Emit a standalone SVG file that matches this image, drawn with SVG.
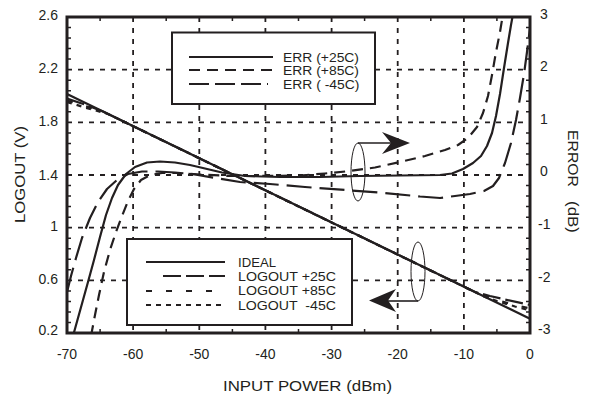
<svg xmlns="http://www.w3.org/2000/svg" width="592" height="396" viewBox="0 0 592 396">
<style>
text{font-family:"Liberation Sans",Arial,sans-serif;fill:#231f20}
.t{font-size:14px}
.lg{font-size:12.5px}
.tl{text-anchor:end}
.tc{text-anchor:middle}
.grid{stroke:#231f20;stroke-width:1.8;stroke-dasharray:5 6;fill:none}
.tick{stroke:#231f20;stroke-width:1.5;fill:none}
.box{fill:#fff;stroke:#231f20;stroke-width:2}
.c{fill:none;stroke:#231f20;stroke-width:2.2;stroke-linejoin:round}
.s{stroke-width:2.2}
.d85{stroke-dasharray:11 7}
.d45{stroke-dasharray:25 8}
.l25{stroke-dasharray:18 5}
.l85{stroke-dasharray:6 14}
.l45{stroke-dasharray:5 5}
.ov{fill:none;stroke:#231f20;stroke-width:1}
.ar{fill:none;stroke:#231f20;stroke-width:1.6}
</style>
<defs>
<clipPath id="plot"><rect x="67" y="17" width="463" height="316"/></clipPath>
</defs>
<rect width="592" height="396" fill="#fff"/>
<g id="grid">
<path class="grid" d="M133.1,17V333M199.3,17V333M265.4,17V333M331.6,17V333M397.7,17V333M463.9,17V333M67,69.7H530M67,122.3H530M67,175H530M67,227.7H530M67,280.3H530"/>
</g>
<g id="ticks">
<path class="tick" d="M67,27.5h4M67,38h4M67,48.6h4M67,59.1h4M67,80.2h4M67,90.8h4M67,101.3h4M67,111.8h4M67,132.9h4M67,143.4h4M67,154h4M67,164.5h4M67,185.5h4M67,196.1h4M67,206.6h4M67,217.2h4M67,238.2h4M67,248.8h4M67,259.3h4M67,269.8h4M67,290.9h4M67,301.4h4M67,312h4M67,322.5h4"/>
<path class="tick" d="M530,27.5h-4M530,38h-4M530,48.6h-4M530,59.1h-4M530,80.2h-4M530,90.8h-4M530,101.3h-4M530,111.8h-4M530,132.9h-4M530,143.4h-4M530,154h-4M530,164.5h-4M530,185.5h-4M530,196.1h-4M530,206.6h-4M530,217.2h-4M530,238.2h-4M530,248.8h-4M530,259.3h-4M530,269.8h-4M530,290.9h-4M530,301.4h-4M530,312h-4M530,322.5h-4"/>
<path class="tick" d="M100.1,17v4M166.2,17v4M232.4,17v4M298.5,17v4M364.6,17v4M430.8,17v4M496.9,17v4M100.1,333v-4M166.2,333v-4M232.4,333v-4M298.5,333v-4M364.6,333v-4M430.8,333v-4M496.9,333v-4"/>
</g>
<g id="legend-err">
<rect class="box" x="172" y="32.5" width="203" height="71.5"/>
<line class="c s" x1="189" y1="57" x2="273" y2="57"/>
<line class="c d85" x1="189" y1="70" x2="273" y2="70"/>
<line class="c" x1="189" y1="84" x2="268" y2="84" stroke-dasharray="20 6"/>
<text class="lg" x="283" y="61.5" textLength="76" lengthAdjust="spacingAndGlyphs">ERR (+25C)</text>
<text class="lg" x="283" y="75.3" textLength="76" lengthAdjust="spacingAndGlyphs">ERR (+85C)</text>
<text class="lg" x="283" y="89.1" textLength="76.5" lengthAdjust="spacingAndGlyphs" xml:space="preserve">ERR ( -45C)</text>
</g>
<g id="legend-logout">
<rect class="box" x="127" y="239" width="225" height="86"/>
<line class="c" x1="146" y1="262" x2="225" y2="262" stroke-width="2.5"/>
<line class="c l25" x1="163" y1="276" x2="225" y2="276"/>
<line class="c l85" x1="146" y1="291" x2="225" y2="291"/>
<line class="c l45" x1="146" y1="305" x2="225" y2="305"/>
<text class="lg" x="238" y="266.5" textLength="38" lengthAdjust="spacingAndGlyphs">IDEAL</text>
<text class="lg" x="238" y="280.9" textLength="98" lengthAdjust="spacingAndGlyphs">LOGOUT +25C</text>
<text class="lg" x="238" y="295.3" textLength="98" lengthAdjust="spacingAndGlyphs">LOGOUT +85C</text>
<text class="lg" x="238" y="309.7" textLength="98" lengthAdjust="spacingAndGlyphs" xml:space="preserve">LOGOUT  -45C</text>
</g>
<g id="curves" clip-path="url(#plot)">
<line id="ideal" class="c" x1="67" y1="94" x2="530" y2="318.7" stroke-width="2.6"/>
<polyline id="logout-25" class="c l25" stroke-width="1.8" points="67,98.5 85,104.5 103,111.5 475,292 490,296 505,299.5 530,305"/>
<polyline id="logout-85" class="c l85" stroke-width="1.8" points="67,100.5 85,106 105,112.5 480,294.5 497,300 513,304.5 530,308.5"/>
<polyline id="logout-m45" class="c l45" stroke-width="1.8" points="67,102 85,107.5 108,114 485,297 500,302 515,306.5 530,310.5"/>
<polyline id="err-25" class="c s" points="73,336 78,318 83,300 88,282 94,260 100,237 106,215 112,198 118,185 126,174 135,167 147,162.5 160,161.5 175,162.5 190,165 205,168.5 222,172.5 245,176 280,177 320,177 360,176 400,175.5 440,175 452,173.5 463,169 473,163 481,156 487,146 492,133 496,116 500,94 504,68 508,43 511,25 513,14"/>
<polyline id="err-85" class="c d85" points="91,336 95,315 99,295 104,272 110,250 116,232 122,216 128,201 134,189 141,180 150,175 162,173 180,173 200,174.5 230,176 260,176 300,175.5 325,173.5 350,171 375,167.5 400,162 425,156 445,150 458,145 468,138 477,127 483,113 488,96 492,75 496,52 500,32 503,14"/>
<polyline id="err-m45" class="c d45" points="67,292 71,276 76,258 82,238 90,218 98,202 107,189 117,180 128,174 142,171.5 158,171.5 175,172.5 195,174.5 215,178 240,182 270,184 305,187 345,190 385,193 420,196.5 440,198 455,196 470,194 484,191 493,186 499,178 505,163 511,143 516,120 520,98 524,74 527,52 530,28"/>
</g>
<g id="annot-err">
<ellipse class="ov" cx="358" cy="172" rx="7" ry="29"/>
<line class="ar" x1="358" y1="143" x2="392" y2="143"/>
<polygon fill="#231f20" points="410,143 382,132 391,143 382,154"/>
</g>
<g id="annot-logout">
<ellipse class="ov" cx="418" cy="271.5" rx="7" ry="29.5"/>
<line class="ar" x1="418" y1="301" x2="388" y2="301"/>
<polygon fill="#231f20" points="369,300.5 396,289 388,300.5 396,312"/>
</g>
<rect id="frame" x="67" y="17" width="463" height="316" fill="none" stroke="#231f20" stroke-width="3"/>
<g id="axis-left" class="t tl">
<text x="58" y="20">2.6</text>
<text x="58" y="73">2.2</text>
<text x="58" y="126">1.8</text>
<text x="58" y="180">1.4</text>
<text x="58" y="231">1</text>
<text x="58" y="284">0.6</text>
<text x="58" y="335">0.2</text>
</g>
<g id="axis-right" class="t">
<text x="540" y="18.5">3</text>
<text x="540" y="71">2</text>
<text x="540" y="123.5">1</text>
<text x="540" y="176">0</text>
<text x="538" y="228.5">-1</text>
<text x="538" y="281.5">-2</text>
<text x="538" y="334">-3</text>
</g>
<g id="axis-bottom" class="t tc">
<text x="67" y="359">-70</text>
<text x="133.1" y="359">-60</text>
<text x="199.3" y="359">-50</text>
<text x="265.4" y="359">-40</text>
<text x="331.6" y="359">-30</text>
<text x="397.7" y="359">-20</text>
<text x="463.9" y="359">-10</text>
<text x="530" y="359">0</text>
</g>
<text x="223" y="391" font-size="14.5" textLength="169" lengthAdjust="spacingAndGlyphs">INPUT POWER (dBm)</text>
<text transform="translate(25,223) rotate(-90)" x="0" y="0" font-size="14.5" textLength="97" lengthAdjust="spacingAndGlyphs">LOGOUT (V)</text>
<text transform="translate(568,130) rotate(90)" font-size="14.5"><tspan x="0" y="0" textLength="57" lengthAdjust="spacingAndGlyphs">ERROR</tspan><tspan x="71" y="0" textLength="32" lengthAdjust="spacingAndGlyphs">(dB)</tspan></text>
</svg>
